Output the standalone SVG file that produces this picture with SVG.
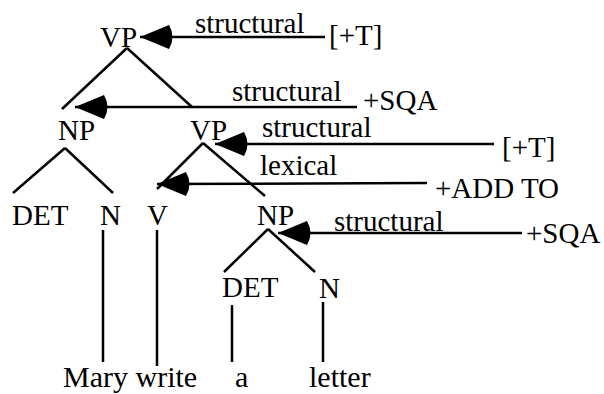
<svg xmlns="http://www.w3.org/2000/svg" width="604" height="394" viewBox="0 0 604 394" font-family="'Liberation Serif', 'Times New Roman', serif" font-size="29">
  <defs>
    <style>
      text { font-family: 'Liberation Serif', 'Times New Roman', serif; font-size: 29px; fill: #000; }
      .word { font-size: 30px; }
      .edge { stroke: #000; stroke-width: 2.5; fill: none; stroke-linecap: butt; }
      .feat { stroke: #000; stroke-width: 2.5; fill: none; marker-end: url(#head); }
    </style>
    <!-- filled arrowhead with a rounded back, tip at the line end -->
    <marker id="head" markerUnits="userSpaceOnUse" markerWidth="40" markerHeight="28" refX="31" refY="12" orient="auto" overflow="visible">
      <path d="M2,0 L31,12 L2,24 Q-5,12 2,0 Z" fill="#000"/>
    </marker>
  </defs>
  <rect width="604" height="394" fill="#fff"/>

  <!-- tree nodes -->
  <g id="vp-top">
    <text x="100" y="47">VP</text>
    <line class="edge" x1="127" y1="48" x2="62" y2="109"/>
    <line class="edge" x1="127" y1="48" x2="192" y2="107"/>
  </g>
  <g id="np-subject">
    <text x="58" y="140">NP</text>
    <line class="edge" x1="65" y1="148" x2="13" y2="193"/>
    <line class="edge" x1="65" y1="148" x2="113" y2="193"/>
  </g>
  <g id="vp-inner">
    <text x="190" y="140">VP</text>
    <line class="edge" x1="203" y1="143" x2="157" y2="189"/>
    <line class="edge" x1="203" y1="143" x2="265" y2="196"/>
  </g>
  <g id="det-subject">
    <text x="12" y="225">DET</text>
  </g>
  <g id="n-subject">
    <text x="100" y="225">N</text>
    <line class="edge" x1="103" y1="230" x2="103" y2="362"/>
  </g>
  <g id="v">
    <text x="147" y="225">V</text>
    <line class="edge" x1="157" y1="230" x2="157" y2="366"/>
  </g>
  <g id="np-object">
    <text x="257" y="225">NP</text>
    <line class="edge" x1="268" y1="229" x2="224" y2="272"/>
    <line class="edge" x1="268" y1="229" x2="315" y2="272"/>
  </g>
  <g id="det-object">
    <text x="222" y="297">DET</text>
    <line class="edge" x1="232" y1="305" x2="232" y2="362"/>
  </g>
  <g id="n-object">
    <text x="319" y="298">N</text>
    <line class="edge" x1="323" y1="302" x2="323" y2="362"/>
  </g>
  <g id="words">
    <text class="word" x="63" y="387">Mary write</text>
    <text class="word" x="235" y="387">a</text>
    <text class="word" x="309" y="387">letter</text>
  </g>

  <!-- feature connectors -->
  <g id="connectors">
    <line class="feat" x1="325" y1="37" x2="140" y2="37"/>
    <line class="feat" x1="357" y1="107" x2="75" y2="107"/>
    <line class="feat" x1="494" y1="144" x2="215" y2="144"/>
    <line class="feat" x1="427" y1="183" x2="157" y2="184"/>
    <line class="feat" x1="522" y1="233" x2="278" y2="233"/>
  </g>

  <g id="labels">
    <text x="195" y="33">structural</text>
    <text x="329" y="45">[+T]</text>
    <text x="232" y="101">structural</text>
    <text x="363" y="110">+SQA</text>
    <text x="262" y="137">structural</text>
    <text x="502" y="157">[+T]</text>
    <text x="260" y="175">lexical</text>
    <text x="435" y="198">+ADD TO</text>
    <text x="334" y="231">structural</text>
    <text x="526" y="243">+SQA</text>
  </g>
</svg>
